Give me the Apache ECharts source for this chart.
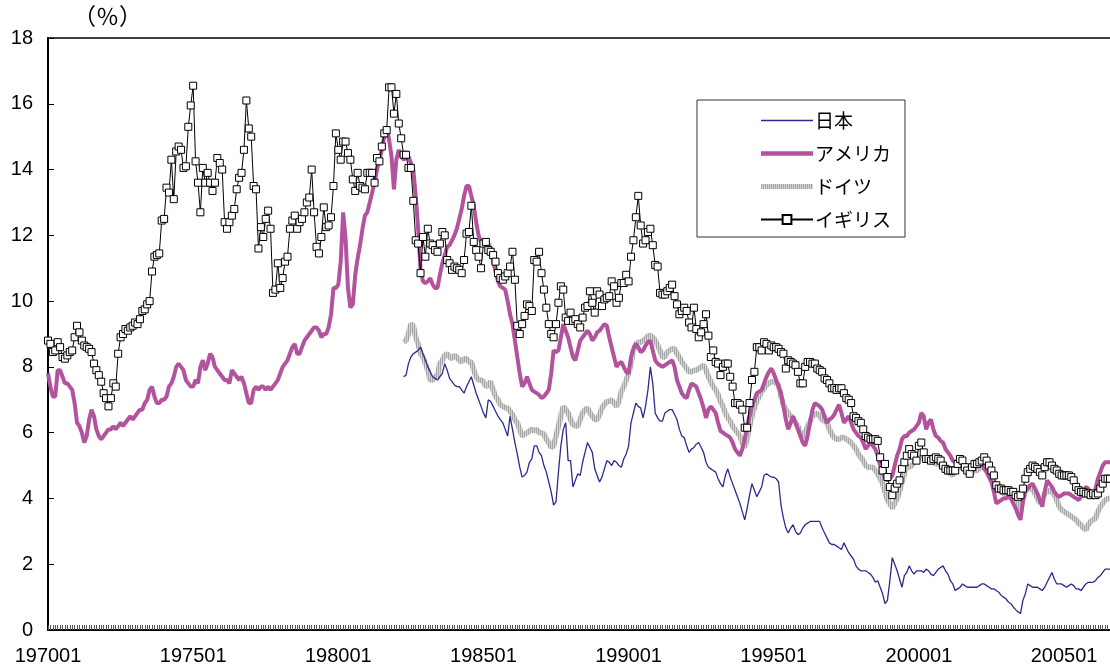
<!DOCTYPE html>
<html>
<head>
<meta charset="utf-8">
<script src="https://cdn.jsdelivr.net/npm/echarts@6/dist/echarts.min.js"></script>
<style>
html, body { margin: 0; padding: 0; background: #fff; }
#chart { width: 1110px; height: 672px; }
</style>
</head>
<body>
<div id="chart"></div>
<script>
// 月次カテゴリ 197001 ～ 200608
var months = []
for (var yr = 1970; yr <= 2006; yr++) {
	for (var mo = 1; mo <= 12; mo++) {
		if (yr === 2006 && mo > 8) break
		months.push(String(yr) + (mo < 10 ? '0' + mo : mo))
	}
}
var xLabelStep = 60 // 5年ごとにラベル

// 日本・ドイツは 198204 から
var startJP = '198204'
var startDE = '198204'

var japan = [
	7.7, 7.75, 8.1, 8.3, 8.4, 8.45, 8.5, 8.6, 8.4,
	8.2, 8.0, 7.85, 7.7, 7.65, 7.6, 7.7, 7.8, 8.1, 7.9, 7.65, 7.55,
	7.45, 7.4, 7.4, 7.3, 7.2, 7.4, 7.55, 7.7, 7.45, 7.2, 7.0, 6.8,
	6.6, 6.45, 7.0, 6.95, 6.8, 6.65, 6.5, 6.4, 6.3, 6.1, 5.9, 6.5,
	6.1, 5.7, 5.35, 4.95, 4.65, 4.7, 4.8, 5.1, 5.2, 5.6, 5.6, 5.4,
	5.3, 5.0, 4.8, 4.5, 4.2, 3.8, 3.9, 4.8, 5.6, 6.1, 6.3, 5.15,
	5.15, 4.35, 4.55, 4.75, 4.7, 5.1, 5.4, 5.7, 5.55, 5.4, 4.9, 4.7,
	4.5, 4.65, 4.9, 5.15, 5.1, 5.0, 5.15, 5.1, 5.0, 4.95, 5.2, 5.35,
	5.6, 6.3, 6.6, 6.9, 6.8, 6.75, 6.45, 6.8, 7.3, 8.0, 7.5, 6.6,
	6.45, 6.35, 6.35, 6.6, 6.65, 6.7, 6.7, 6.55, 6.4, 6.1, 5.9, 5.85,
	5.6, 5.4, 5.5, 5.55, 5.65, 5.7, 5.55, 5.4, 5.1, 4.95, 4.9, 4.85,
	4.8, 4.6, 4.45, 4.35, 4.7, 4.9, 4.65, 4.45, 4.25, 4.05, 3.85, 3.6,
	3.35, 3.7, 4.1, 4.45, 4.25, 4.05, 4.2, 4.35, 4.7, 4.75, 4.7, 4.65,
	4.65, 4.6, 4.5, 3.8, 3.4, 3.1, 2.95, 3.1, 3.2, 3.0, 2.9, 2.95,
	3.1, 3.2, 3.25, 3.3, 3.3, 3.3, 3.3, 3.3, 3.1, 2.95, 2.8, 2.65,
	2.6, 2.6, 2.55, 2.5, 2.45, 2.65, 2.5, 2.35, 2.25, 2.15, 1.95, 1.85,
	1.8, 1.8, 1.8, 1.75, 1.7, 1.6, 1.45, 1.5, 1.3, 1.1, 0.8, 0.9,
	1.5, 2.2, 2.0, 1.8, 1.55, 1.3, 1.65, 1.75, 1.95, 1.8, 1.7, 1.8,
	1.8, 1.8, 1.75, 1.85, 1.8, 1.7, 1.65, 1.75, 1.85, 1.9, 1.95, 1.8,
	1.7, 1.5, 1.4, 1.2, 1.25, 1.3, 1.4, 1.35, 1.3, 1.3, 1.3, 1.3,
	1.3, 1.35, 1.4, 1.4, 1.35, 1.3, 1.25, 1.25, 1.2, 1.15, 1.05, 1.0,
	0.95, 0.85, 0.8, 0.7, 0.62, 0.55, 0.5, 0.9, 1.1, 1.4, 1.35, 1.3,
	1.3, 1.3, 1.25, 1.2, 1.3, 1.45, 1.6, 1.75, 1.55, 1.4, 1.4, 1.4,
	1.35, 1.3, 1.35, 1.4, 1.35, 1.25, 1.25, 1.2, 1.3, 1.4, 1.45, 1.45,
	1.45, 1.5, 1.6, 1.65, 1.75, 1.85, 1.85, 1.85
]

var usa = [
	7.8, 7.4, 7.1, 7.1, 7.9, 7.9, 7.7, 7.5, 7.5, 7.4, 7.3, 6.9,
	6.3, 6.2, 6.0, 5.7, 5.9, 6.4, 6.7, 6.5, 6.1, 5.9, 5.8, 5.9,
	6.0, 6.1, 6.1, 6.2, 6.1, 6.2, 6.3, 6.2, 6.3, 6.4, 6.5, 6.4,
	6.5, 6.6, 6.7, 6.7, 6.9, 7.0, 7.3, 7.4, 7.1, 6.9, 6.9, 7.0,
	7.0, 7.1, 7.4, 7.5, 7.7, 8.0, 8.1, 8.0, 7.9, 7.6, 7.5, 7.4,
	7.4, 7.6, 7.5, 8.0, 8.2, 7.9, 8.1, 8.4, 8.3, 8.0, 7.9, 7.8,
	7.7, 7.6, 7.6, 7.5, 7.9, 7.8, 7.7, 7.6, 7.7, 7.5, 7.2, 6.9,
	6.9, 7.3, 7.4, 7.3, 7.4, 7.4, 7.3, 7.4, 7.3, 7.4, 7.5, 7.6,
	7.8, 8.0, 8.1, 8.2, 8.4, 8.6, 8.7, 8.4, 8.4, 8.6, 8.8, 8.9,
	9.0, 9.1, 9.2, 9.2, 9.1, 8.9, 9.0, 9.0, 9.2, 9.6, 10.4, 10.4,
	10.5, 11.2, 12.7, 11.9, 10.4, 9.8, 9.9, 10.8, 11.3, 11.7, 12.2, 12.6,
	12.7, 13.0, 13.3, 13.6, 14.0, 14.3, 14.6, 15.0, 15.3, 14.9, 14.4, 13.4,
	14.3, 14.6, 14.4, 14.3, 14.35, 14.4, 14.2, 14.0, 13.2, 12.2, 10.95, 10.6,
	10.55, 10.6, 10.7, 10.5, 10.4, 10.4, 10.8, 11.15, 11.4, 11.65, 11.7, 11.85,
	12.0, 12.2, 12.5, 12.8, 13.2, 13.5, 13.5, 13.2, 12.9, 12.4, 12.0, 11.8,
	11.75, 11.7, 11.75, 11.6, 11.2, 10.9, 10.6, 10.45, 10.4, 10.35, 10.0, 9.6,
	9.3, 8.8, 8.3, 7.8, 7.4, 7.5, 7.7, 7.5, 7.3, 7.25, 7.2, 7.15,
	7.05, 7.1, 7.2, 7.3, 7.8, 8.5, 8.45, 8.5, 8.9, 9.3, 9.1, 8.9,
	8.6, 8.3, 8.2, 8.5, 8.8, 8.9, 9.0, 9.1, 9.0, 8.8, 8.9, 9.05,
	9.1, 9.2, 9.3, 9.25, 8.9, 8.6, 8.3, 8.0, 8.1, 8.15, 8.0, 7.85,
	7.8, 8.3, 8.55, 8.7, 8.6, 8.45, 8.5, 8.65, 8.75, 8.8, 8.5, 8.2,
	8.1, 8.05, 8.0, 8.05, 8.1, 8.15, 8.2, 8.0, 7.6, 7.4, 7.2, 7.1,
	7.05, 7.3, 7.5, 7.45, 7.4, 7.2, 7.0, 6.75, 6.45, 6.7, 6.8, 6.7,
	6.6, 6.3, 6.05, 6.0, 5.95, 5.9, 5.85, 5.7, 5.5, 5.4, 5.3, 5.5,
	5.8, 6.2, 6.5, 6.8, 7.0, 7.2, 7.25, 7.3, 7.5, 7.7, 7.85, 7.95,
	7.8, 7.6, 7.4, 7.2, 6.8, 6.4, 6.1, 6.3, 6.5, 6.3, 6.1, 5.9,
	5.7, 5.6, 5.9, 6.3, 6.7, 6.9, 6.85, 6.8, 6.7, 6.5, 6.3, 6.4,
	6.45, 6.55, 6.7, 6.85, 6.6, 6.3, 6.4, 6.5, 6.3, 6.1, 6.0, 5.9,
	5.85, 5.7, 5.5, 5.6, 5.7, 5.6, 5.5, 5.3, 5.0, 4.8, 4.6, 4.55,
	4.6, 4.7, 5.0, 5.3, 5.5, 5.8, 5.9, 5.9, 6.0, 6.05, 6.1, 6.2,
	6.3, 6.6, 6.5, 6.1, 6.3, 6.4, 6.1, 5.9, 5.85, 5.75, 5.7, 5.5,
	5.4, 5.3, 5.15, 5.1, 5.15, 5.15, 5.1, 5.0, 4.95, 4.9, 4.85, 4.9,
	5.0, 5.15, 5.05, 4.9, 4.8, 4.65, 4.5, 4.2, 3.85, 3.9, 3.95, 4.0,
	4.0, 4.05, 4.0, 3.85, 3.7, 3.5, 3.35, 3.9, 4.25, 4.3, 4.4, 4.45,
	4.3, 4.15, 3.95, 3.75, 4.2, 4.55, 4.45, 4.35, 4.2, 4.1, 4.05, 4.1,
	4.15, 4.15, 4.15, 4.1, 4.05, 4.0, 3.95, 4.05, 4.2, 4.35, 4.3, 4.2,
	4.15, 4.3, 4.6, 4.8, 5.0, 5.1, 5.1, 5.1
]

var germany = [
	8.75, 8.8, 9.0, 9.3, 9.25, 8.9, 8.7, 8.4, 8.3,
	8.1, 7.9, 7.6, 7.6, 7.7, 7.75, 8.1, 8.2, 8.35, 8.4, 8.3, 8.25,
	8.35, 8.3, 8.2, 8.15, 8.25, 8.25, 8.15, 8.15, 7.9, 7.7, 7.6, 7.6,
	7.55, 7.4, 7.45, 7.55, 7.3, 7.1, 7.0, 6.85, 6.8, 6.75, 6.75, 6.65,
	6.55, 6.4, 6.3, 6.1, 5.9, 5.95, 6.0, 6.05, 6.1, 6.05, 6.1, 6.0,
	6.0, 5.95, 5.8, 5.7, 5.55, 5.6, 5.9, 6.2, 6.5, 6.8, 6.7, 6.6,
	6.4, 6.25, 6.2, 6.2, 6.4, 6.6, 6.7, 6.75, 6.6, 6.5, 6.4, 6.4,
	6.55, 6.75, 6.85, 6.95, 6.95, 7.0, 6.9, 6.8, 6.95, 7.25, 7.4, 7.6,
	7.8, 8.1, 8.5, 8.7, 8.75, 8.75, 8.8, 8.85, 8.95, 8.95, 8.9, 8.8,
	8.65, 8.5, 8.3, 8.3, 8.45, 8.5, 8.55, 8.55, 8.4, 8.3, 8.15, 8.05,
	7.95, 7.85, 7.85, 7.9, 7.9, 7.95, 8.0, 8.05, 7.9, 7.7, 7.55, 7.4,
	7.3, 7.15, 6.95, 6.8, 6.6, 6.45, 6.35, 6.2, 6.1, 6.0, 5.9, 5.7,
	5.55, 5.8, 6.2, 6.5, 6.75, 6.95, 7.1, 7.25, 7.35, 7.45, 7.5, 7.55,
	7.55, 7.5, 7.45, 7.1, 6.85, 6.7, 6.6, 6.5, 6.4, 6.3, 6.2, 6.0,
	5.85, 6.0, 6.2, 6.35, 6.5, 6.55, 6.6, 6.5, 6.4, 6.35, 6.3, 6.1,
	5.95, 5.85, 5.8, 5.8, 5.85, 5.85, 5.8, 5.75, 5.7, 5.6, 5.5, 5.35,
	5.25, 5.15, 5.0, 4.95, 4.95, 4.95, 4.85, 4.75, 4.6, 4.45, 4.2, 3.95,
	3.85, 3.7, 3.85, 4.0, 4.2, 4.5, 4.75, 5.0, 4.95, 5.0, 5.1, 5.2,
	5.25, 5.25, 5.2, 5.2, 5.15, 5.1, 5.1, 5.05, 5.05, 5.0, 4.95, 4.85,
	4.8, 4.75, 4.7, 4.85, 4.95, 4.95, 4.95, 4.85, 4.8, 4.75, 4.8, 4.85,
	4.85, 4.9, 4.95, 4.95, 4.85, 4.75, 4.6, 4.5, 4.3, 4.25, 4.2, 4.15,
	4.1, 4.05, 4.1, 4.15, 4.0, 3.8, 3.65, 4.0, 4.2, 4.3, 4.35, 4.25,
	4.15, 4.0, 3.85, 4.0, 4.15, 4.2, 4.25, 4.2, 4.1, 3.95, 3.75, 3.65,
	3.6, 3.55, 3.5, 3.45, 3.4, 3.35, 3.25, 3.2, 3.1, 3.05, 3.2, 3.3,
	3.35, 3.4, 3.6, 3.75, 3.85, 3.95, 4.0, 4.0
]

var uk = [
	8.8, 8.7, 8.45, 8.5, 8.75, 8.6, 8.3, 8.25, 8.35, 8.45, 8.5, 8.9,
	9.25, 9.05, 8.8, 8.65, 8.6, 8.55, 8.45, 8.1, 7.9, 7.75, 7.55, 7.2,
	7.05, 6.8, 7.05, 7.5, 7.4, 8.4, 8.9, 9.0, 9.15, 9.1, 9.2, 9.25,
	9.35, 9.3, 9.45, 9.7, 9.75, 9.9, 10.0, 10.9, 11.35, 11.4, 11.45, 12.45,
	12.5, 13.45, 13.3, 14.3, 13.1, 14.55, 14.7, 14.6, 14.05, 14.1, 15.3, 15.95,
	16.55, 14.25, 13.6, 12.7, 14.05, 13.6, 13.9, 13.6, 13.35, 13.6, 14.35, 14.2,
	14.0, 12.4, 12.2, 12.4, 12.6, 12.8, 13.4, 13.75, 13.9, 14.6, 16.1, 15.25,
	15.0, 13.5, 13.4, 11.6, 12.25, 11.95, 12.5, 12.75, 12.2, 10.25, 10.35, 11.15,
	10.4, 10.7, 11.2, 11.35, 12.2, 12.45, 12.6, 12.2, 12.4, 12.5, 12.7, 13.0,
	13.15, 14.0, 12.7, 11.65, 11.45, 11.95, 12.85, 12.25, 12.3, 12.55, 13.5, 15.1,
	14.6, 14.3, 14.85, 14.85, 14.5, 14.3, 13.7, 13.35, 13.9, 13.5, 13.45, 13.4,
	13.9, 13.9, 13.9, 13.6, 14.35, 14.25, 14.7, 15.1, 15.2, 16.5, 16.5, 15.7,
	16.3, 15.4, 14.95, 14.45, 14.45, 14.05, 14.05, 13.05, 11.85, 11.75, 10.85, 11.95,
	11.35, 12.2, 11.75, 11.7, 11.55, 11.5, 11.75, 12.1, 12.0, 11.25, 11.15, 10.95,
	11.05, 11.0, 10.95, 10.85, 11.25, 12.05, 12.1, 12.9, 11.8, 11.55, 11.35, 11.0,
	11.75, 11.8, 11.55, 11.5, 11.4, 11.2, 10.85, 10.7, 10.65, 10.75, 10.85, 11.05,
	11.5, 10.65, 9.25, 9.0, 9.3, 9.55, 9.9, 9.85, 9.7, 11.25, 11.2, 11.5,
	10.85, 10.35, 9.8, 9.3, 9.0, 8.9, 9.3, 9.95, 10.45, 10.35, 9.5, 9.4,
	9.65, 9.4, 9.45, 9.3, 9.2, 9.5, 9.8, 9.85, 10.3, 9.95, 9.65, 10.3,
	10.2, 9.85, 10.05, 10.1, 10.15, 10.6, 10.45, 9.95, 10.1, 10.55, 10.55, 10.8,
	10.6, 11.35, 11.85, 12.55, 13.2, 12.3, 11.75, 11.85, 12.1, 12.2, 11.7, 11.1,
	11.05, 10.25, 10.2, 10.2, 10.3, 10.4, 10.5, 10.15, 9.9, 9.6, 9.7, 9.8,
	9.7, 9.35, 9.2, 9.8, 9.15, 8.9, 9.05, 9.3, 9.6, 8.95, 8.3, 8.5,
	8.15, 8.1, 7.75, 8.0, 8.1, 8.1, 7.7, 7.4, 6.9, 6.9, 6.85, 6.7,
	6.15, 6.15, 6.9, 7.6, 7.85, 8.6, 8.6, 8.5, 8.75, 8.7, 8.5, 8.65,
	8.6, 8.6, 8.55, 8.45, 8.4, 7.95, 8.2, 8.15, 8.1, 8.05, 7.85, 7.5,
	7.5, 8.0, 8.15, 8.15, 8.1, 8.1, 7.95, 7.9, 7.85, 7.65, 7.6, 7.5,
	7.35, 7.35, 7.3, 7.35, 7.35, 7.2, 7.05, 7.0, 6.9, 6.5, 6.45, 6.35,
	6.3, 6.1, 5.9, 5.85, 5.8, 5.8, 5.8, 5.75, 5.25, 4.85, 5.05, 4.65,
	4.35, 4.1, 4.3, 4.45, 4.55, 4.9, 5.1, 5.3, 5.5, 5.35, 5.3, 5.15,
	5.6, 5.7, 5.4, 5.2, 5.2, 5.15, 5.2, 5.25, 5.2, 5.15, 5.0, 4.9,
	4.85, 4.85, 4.85, 4.85, 5.05, 5.2, 5.15, 4.95, 4.85, 4.75, 4.95, 5.05,
	5.05, 5.1, 5.15, 5.25, 5.15, 5.0, 4.85, 4.7, 4.4, 4.3, 4.3, 4.25,
	4.25, 4.25, 4.2, 4.2, 4.1, 4.05, 4.1, 4.3, 4.6, 4.8, 4.9, 5.0,
	4.95, 4.9, 4.8, 4.7, 4.95, 5.1, 5.1, 5.0, 4.9, 4.85, 4.75, 4.7,
	4.7, 4.7, 4.7, 4.65, 4.55, 4.35, 4.25, 4.2, 4.2, 4.15, 4.15, 4.1,
	4.15, 4.1, 4.15, 4.3, 4.45, 4.6, 4.6, 4.6
]

function pad(startMonth, arr) {
	var n = months.indexOf(startMonth)
	var out = []
	for (var i = 0; i < n; i++) out.push(null)
	return out.concat(arr)
}

// ドイツ線の縦縞模様
function stripePattern() {
	var c = document.createElement('canvas')
	c.width = 2
	c.height = 2
	var ctx = c.getContext('2d')
	ctx.fillStyle = '#a6a6a6'
	ctx.fillRect(0, 0, 1, 2)
	ctx.fillStyle = '#d4d4d4'
	ctx.fillRect(1, 0, 1, 2)
	return { image: c, repeat: 'repeat' }
}
var stripe = stripePattern()

var labelFont = "'Liberation Sans', Arial, sans-serif"
var jpFont = "'Noto Sans CJK JP', sans-serif"

var myChart = echarts.init(document.getElementById('chart'), null, { renderer: 'canvas' })
var option = {
	animation: false,
	backgroundColor: '#fff',
	grid: {
		left: 48,
		right: 0,
		top: 38,
		bottom: 42
	},
	legend: {
		orient: 'vertical',
		left: 697,
		top: 100,
		padding: [11, 14, 8, 63],
		itemWidth: 52,
		itemHeight: 11,
		itemGap: 14,
		symbolKeepAspect: true,
		borderColor: '#333',
		borderWidth: 1,
		backgroundColor: '#fff',
		textStyle: {
			fontFamily: jpFont,
			fontSize: 19,
			color: '#000',
			padding: [0, 0, 0, -3]
		},
		data: [
			{ name: '日本', icon: 'path://M0,0H52V1.3H0Z' },
			{ name: 'アメリカ', icon: 'path://M0,0H52V4.5H0Z' },
			{ name: 'ドイツ', icon: 'path://M0,0H52V5H0Z' },
			{ name: 'イギリス' }
		]
	},
	xAxis: [
		{
			type: 'category',
			data: months,
			boundaryGap: false,
			axisLine: {
				lineStyle: { color: '#000', width: 2 }
			},
			axisTick: {
				show: true,
				inside: true,
				interval: 0,
				length: 5,
				lineStyle: { color: '#555', width: 1 }
			},
			axisLabel: {
				interval: function (idx) {
					return idx % xLabelStep === 0
				},
				margin: 16,
				color: '#000',
				fontFamily: labelFont,
				fontSize: 20
			},
			splitLine: { show: false }
		},
		{
			type: 'category',
			position: 'top',
			data: months,
			boundaryGap: false,
			axisLine: { lineStyle: { color: '#000', width: 1.5 } },
			axisTick: { show: false },
			axisLabel: { show: false }
		}
	],
	yAxis: {
		type: 'value',
		min: 0,
		max: 18,
		interval: 2,
		name: '（％）',
		nameLocation: 'end',
		nameGap: 10,
		nameTextStyle: {
			fontFamily: jpFont,
			fontSize: 23,
			color: '#000',
			align: 'left',
			padding: [0, 0, 0, 25]
		},
		axisLine: {
			show: true,
			lineStyle: { color: '#000', width: 2 }
		},
		axisTick: {
			show: true,
			inside: true,
			length: 6,
			lineStyle: { color: '#000', width: 1 }
		},
		axisLabel: {
			margin: 15,
			color: '#000',
			fontFamily: labelFont,
			fontSize: 20
		},
		splitLine: { show: false }
	},
	series: [
		{
			name: '日本',
			type: 'line',
			data: pad(startJP, japan),
			showSymbol: false,
			symbol: 'none',
			z: 3,
			itemStyle: { color: '#2b2b8f' },
			lineStyle: { color: '#2b2b8f', width: 1.3 }
		},
		{
			name: 'アメリカ',
			type: 'line',
			data: usa,
			showSymbol: false,
			symbol: 'none',
			z: 4,
			itemStyle: { color: '#b4539d' },
			lineStyle: { color: '#b4539d', width: 4 }
		},
		{
			name: 'ドイツ',
			type: 'line',
			data: pad(startDE, germany),
			showSymbol: false,
			symbol: 'none',
			z: 2,
			itemStyle: { color: stripe },
			lineStyle: { color: stripe, width: 5.5 }
		},
		{
			name: 'イギリス',
			type: 'line',
			data: uk,
			symbol: 'rect',
			symbolSize: 7,
			showSymbol: true,
			showAllSymbol: true,
			z: 5,
			itemStyle: { color: '#fff', borderColor: '#000', borderWidth: 1 },
			lineStyle: { color: '#000', width: 1 }
		}
	]
}
myChart.setOption(option)
</script>
</body>
</html>
